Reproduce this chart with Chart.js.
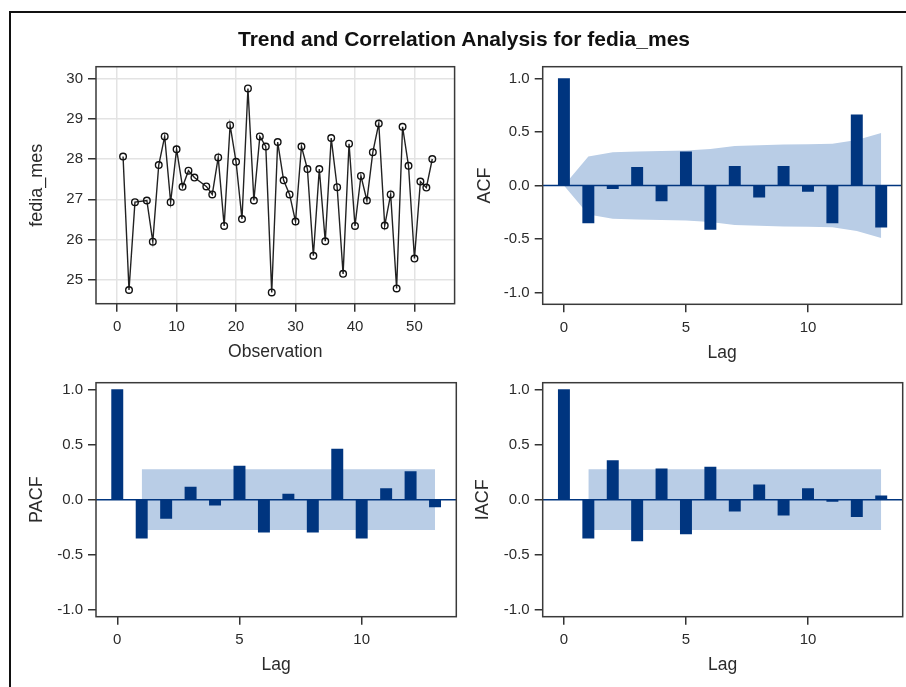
<!DOCTYPE html>
<html>
<head>
<meta charset="utf-8">
<script src="https://cdn.jsdelivr.net/npm/chart.js@4.4.1/dist/chart.umd.min.js"></script>
<style>
    html, body { margin: 0; padding: 0; background: #fff; }
    body { width: 906px; height: 687px; position: relative; overflow: hidden; }
    .frame {
        position: absolute; left: 9px; top: 11px; width: 920px; height: 700px;
        border-left: 2px solid #111; border-top: 2px solid #111;
    }
    .title {
        position: absolute; left: 0; top: 27px; width: 928px; text-align: center;
        font: bold 21px "Liberation Sans", Arial, sans-serif; color: #111; z-index: 2;
    }
    canvas { position: absolute; }
</style>
</head>
<body>
<div class="frame"></div>
<div class="title">Trend and Correlation Analysis for fedia_mes</div>
<canvas id="seriesChart" width="460" height="320" style="left:0;top:50px"></canvas>
<canvas id="acfChart" width="446" height="320" style="left:460px;top:50px"></canvas>
<canvas id="pacfChart" width="460" height="321" style="left:0;top:366px"></canvas>
<canvas id="iacfChart" width="446" height="321" style="left:460px;top:366px"></canvas>
<script>
// fedia_mes by observation (obs 4 and 14 are missing)
const obsIndex = [1, 2, 3, 5, 6, 7, 8, 9, 10, 11, 12, 13, 15, 16, 17, 18, 19, 20, 21, 22,
    23, 24, 25, 26, 27, 28, 29, 30, 31, 32, 33, 34, 35, 36, 37, 38, 39, 40, 41, 42,
    43, 44, 45, 46, 47, 48, 49, 50, 51, 52, 53];
const obsValues = [28.06, 24.75, 26.93, 26.97, 25.95, 27.85, 28.56, 26.93, 28.24, 27.31,
    27.71, 27.54, 27.32, 27.12, 28.04, 26.34, 28.84, 27.93, 26.51, 29.75,
    26.97, 28.56, 28.31, 24.69, 28.42, 27.47, 27.12, 26.45, 28.31, 27.75,
    25.60, 27.75, 25.96, 28.52, 27.30, 25.15, 28.38, 26.34, 27.58, 26.97,
    28.17, 28.88, 26.35, 27.12, 24.79, 28.80, 27.83, 25.53, 27.44, 27.29, 28.00];

const lags = [0, 1, 2, 3, 4, 5, 6, 7, 8, 9, 10, 11, 12, 13];
const acfValues = [1.0, -0.35, -0.03, 0.17, -0.145, 0.315, -0.41, 0.18, -0.11, 0.18, -0.055, -0.35, 0.66, -0.39];
const pacfValues = [1.0, -0.35, -0.17, 0.115, -0.05, 0.305, -0.295, 0.05, -0.295, 0.46, -0.35, 0.10, 0.255, -0.065];
const iacfValues = [1.0, -0.35, 0.355, -0.375, 0.28, -0.31, 0.295, -0.105, 0.135, -0.14, 0.10, -0.015, -0.155, 0.035];

// two standard error limits
const acfLimit = [0, 0.272, 0.31, 0.318, 0.322, 0.328, 0.342, 0.37, 0.376, 0.382, 0.386, 0.39, 0.425, 0.49];
const pacfLimit = 0.276;
const iacfLimit = 0.276;

const obsTicks = [0, 10, 20, 30, 40, 50];
const valueTicks = [25, 26, 27, 28, 29, 30];
const lagTicks = [0, 5, 10];
const corrTicks = [-1, -0.5, 0, 0.5, 1];

const FONT = '"Liberation Sans", Arial, sans-serif';
const TEXT = '#2b2b2b';
const BAR = '#00357f';
const BAND = '#b9cde6';

// plot frame and zero reference line
const boxPlugin = {
    id: 'box',
    afterDatasetsDraw(chart, args, opts) {
        const { ctx, chartArea: a, scales } = chart;
        ctx.save();
        if (opts.zeroLine) {
            const y = scales.y.getPixelForValue(0);
            ctx.strokeStyle = opts.zeroLine;
            ctx.lineWidth = 1.5;
            ctx.beginPath();
            ctx.moveTo(a.left, y);
            ctx.lineTo(a.right, y);
            ctx.stroke();
        }
        ctx.strokeStyle = '#3a3a3a';
        ctx.lineWidth = 1.5;
        ctx.strokeRect(a.left, a.top, a.right - a.left, a.bottom - a.top);
        ctx.restore();
    }
};

function axisX(cfg) {
    return {
        type: 'linear',
        min: cfg.min,
        max: cfg.max,
        offset: false,
        afterBuildTicks: s => { s.ticks = cfg.ticks.map(v => ({ value: v })); },
        afterFit: s => { s.height = cfg.size; },
        border: { display: false },
        grid: {
            offset: false,
            drawOnChartArea: !!cfg.grid,
            color: '#e3e3e3',
            lineWidth: 1.5,
            tickColor: '#333',
            tickLength: 8
        },
        ticks: { color: TEXT, padding: 6.5, maxRotation: 0, font: { family: FONT, size: 15 } },
        title: {
            display: true,
            text: cfg.title,
            color: TEXT,
            padding: { top: 0, bottom: cfg.titlePad },
            font: { family: FONT, size: 17.5 }
        }
    };
}

function axisY(cfg) {
    return {
        type: 'linear',
        min: cfg.min,
        max: cfg.max,
        afterBuildTicks: s => { s.ticks = cfg.ticks.map(v => ({ value: v })); },
        afterFit: s => { s.width = cfg.size; },
        border: { display: false },
        grid: {
            drawOnChartArea: !!cfg.grid,
            color: '#e3e3e3',
            lineWidth: 1.5,
            tickColor: '#333',
            tickLength: 8
        },
        ticks: {
            color: TEXT,
            padding: 5,
            font: { family: FONT, size: 15 },
            callback: cfg.format || (v => v)
        },
        title: {
            display: true,
            text: cfg.title,
            color: TEXT,
            padding: { top: cfg.titlePad, bottom: 0 },
            font: { family: FONT, size: 18 }
        }
    };
}

function baseOptions(padding, scales, zeroLine) {
    return {
        responsive: false,
        animation: false,
        devicePixelRatio: 1,
        layout: { padding: padding },
        plugins: {
            legend: { display: false },
            tooltip: { enabled: false },
            box: { zeroLine: zeroLine }
        },
        scales: scales
    };
}

// Trend panel
new Chart(document.getElementById('seriesChart'), {
    type: 'line',
    data: {
        datasets: [{
            data: obsIndex.map((x, i) => ({ x: x, y: obsValues[i] })),
            borderColor: '#222',
            borderWidth: 1.4,
            pointRadius: 3.3,
            pointBorderWidth: 1.4,
            pointBorderColor: '#111',
            pointBackgroundColor: 'rgba(255,255,255,0)',
            tension: 0
        }]
    },
    options: baseOptions({ top: 16.7, right: 3.7, left: 0, bottom: 0 }, {
        x: axisX({ min: -3.55, max: 56.75, ticks: obsTicks, size: 66.3, title: 'Observation', titlePad: 7, grid: true }),
        y: axisY({ min: 24.41, max: 30.29, ticks: valueTicks, size: 96, title: 'fedia_mes', titlePad: 26, grid: true })
    }, null),
    plugins: [boxPlugin]
});

function corrChart(id, label, values, upper, lower, geo) {
    const fmt = v => Number(v).toFixed(1);
    new Chart(document.getElementById(id), {
        type: 'bar',
        data: {
            datasets: [
                {
                    type: 'bar',
                    data: lags.map((x, i) => ({ x: x, y: values[i] })),
                    backgroundColor: BAR,
                    borderWidth: 0,
                    barThickness: 11.3,
                    order: 1
                },
                {
                    type: 'line',
                    data: upper,
                    borderWidth: 0,
                    pointRadius: 0,
                    backgroundColor: BAND,
                    fill: '+1',
                    order: 3
                },
                {
                    type: 'line',
                    data: lower,
                    borderWidth: 0,
                    pointRadius: 0,
                    fill: false,
                    order: 3
                }
            ]
        },
        options: baseOptions({ top: geo.padTop, right: geo.padRight, left: 0, bottom: 0 }, {
            x: axisX({ min: -0.87, max: geo.xMax, ticks: lagTicks, size: geo.xSize, title: 'Lag', titlePad: geo.xTitlePad }),
            y: axisY({ min: -geo.yLim, max: geo.yLim, ticks: corrTicks, size: geo.ySize, title: label, titlePad: geo.yTitlePad, format: fmt })
        }, BAR),
        plugins: [boxPlugin]
    });
}

const acfUpper = lags.map((x, i) => ({ x: x, y: acfLimit[i] }));
const acfLower = lags.map((x, i) => ({ x: x, y: -acfLimit[i] }));
const bandLags = lags.slice(1);

corrChart('acfChart', 'ACF', acfValues, acfUpper, acfLower,
    { padTop: 16.7, padRight: 4.3, xSize: 65.7, ySize: 82.7, xMax: 13.84, yLim: 1.11, xTitlePad: 6, yTitlePad: 14.2 });

corrChart('pacfChart', 'PACF', pacfValues,
    bandLags.map(x => ({ x: x, y: pacfLimit })), bandLags.map(x => ({ x: x, y: -pacfLimit })),
    { padTop: 16.7, padRight: 3.7, xSize: 70.3, ySize: 96, xMax: 13.87, yLim: 1.062, xTitlePad: 11, yTitlePad: 25.9 });

corrChart('iacfChart', 'IACF', iacfValues,
    bandLags.map(x => ({ x: x, y: iacfLimit })), bandLags.map(x => ({ x: x, y: -iacfLimit })),
    { padTop: 16.7, padRight: 3.3, xSize: 70.3, ySize: 82.7, xMax: 13.88, yLim: 1.062, xTitlePad: 11.7, yTitlePad: 12.5 });
</script>
</body>
</html>
